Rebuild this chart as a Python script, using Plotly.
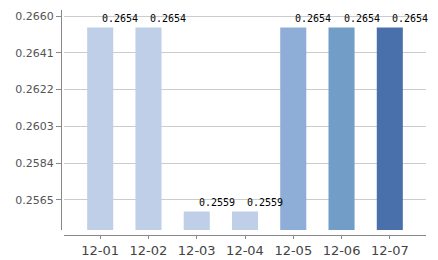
import plotly.graph_objects as go

categories = ["12-01", "12-02", "12-03", "12-04", "12-05", "12-06", "12-07"]
values = [0.2654, 0.2654, 0.2559, 0.2559, 0.2654, 0.2654, 0.2654]
bar_colors = ["#BFCFE8", "#BFCFE8", "#BFCFE8", "#BFCFE8", "#8EADD7", "#729DC6", "#4A70AB"]
y_ticks = [0.2565, 0.2584, 0.2603, 0.2622, 0.2641, 0.2660]
y_range = [0.25495, 0.26631]

W, H = 438, 260
L, R, T, B = 61, 12, 10, 25
pw = W - L - R
ph = H - T - B

fig = go.Figure()
fig.add_trace(go.Bar(
    x=categories, y=values,
    marker=dict(color=bar_colors, line=dict(width=0)),
    width=0.54,
    hoverinfo="skip",
))

for c, v in zip(categories, values):
    fig.add_annotation(
        x=c, y=v, text=f"{v:.4f}", showarrow=False,
        xanchor="left", yanchor="bottom", xshift=0, yshift=2,
        font=dict(family="DejaVu Sans Mono, monospace", size=10, color="#000000"),
    )

fig.update_layout(
    width=W, height=H,
    margin=dict(l=L, r=R, t=T, b=B, pad=0),
    paper_bgcolor="white", plot_bgcolor="white",
    showlegend=False,
    bargap=0.46,
    xaxis=dict(
        type="category",
        automargin=False,
        domain=[3 / pw, 1],
        anchor="free", position=0,
        range=[-0.75, 6.75],
        showline=True, linecolor="#888888", linewidth=1,
        ticks="outside", ticklen=3, tickcolor="#888888",
        showgrid=False, zeroline=False,
        tickfont=dict(family="DejaVu Sans", size=13, color="#444444"),
    ),
    yaxis=dict(
        automargin=False,
        domain=[5 / ph, 1],
        anchor="free", position=0,
        range=y_range,
        tickvals=y_ticks,
        ticktext=[f"{t:.4f}" for t in y_ticks],
        showline=True, linecolor="#888888", linewidth=1,
        ticks="outside", ticklen=5, tickcolor="#888888",
        ticklabelstandoff=0,
        showgrid=True, gridcolor="#CCCCCC", gridwidth=1,
        zeroline=False,
        tickfont=dict(family="DejaVu Sans", size=11, color="#555555"),
    ),
)

fig.write_html("out.html")
